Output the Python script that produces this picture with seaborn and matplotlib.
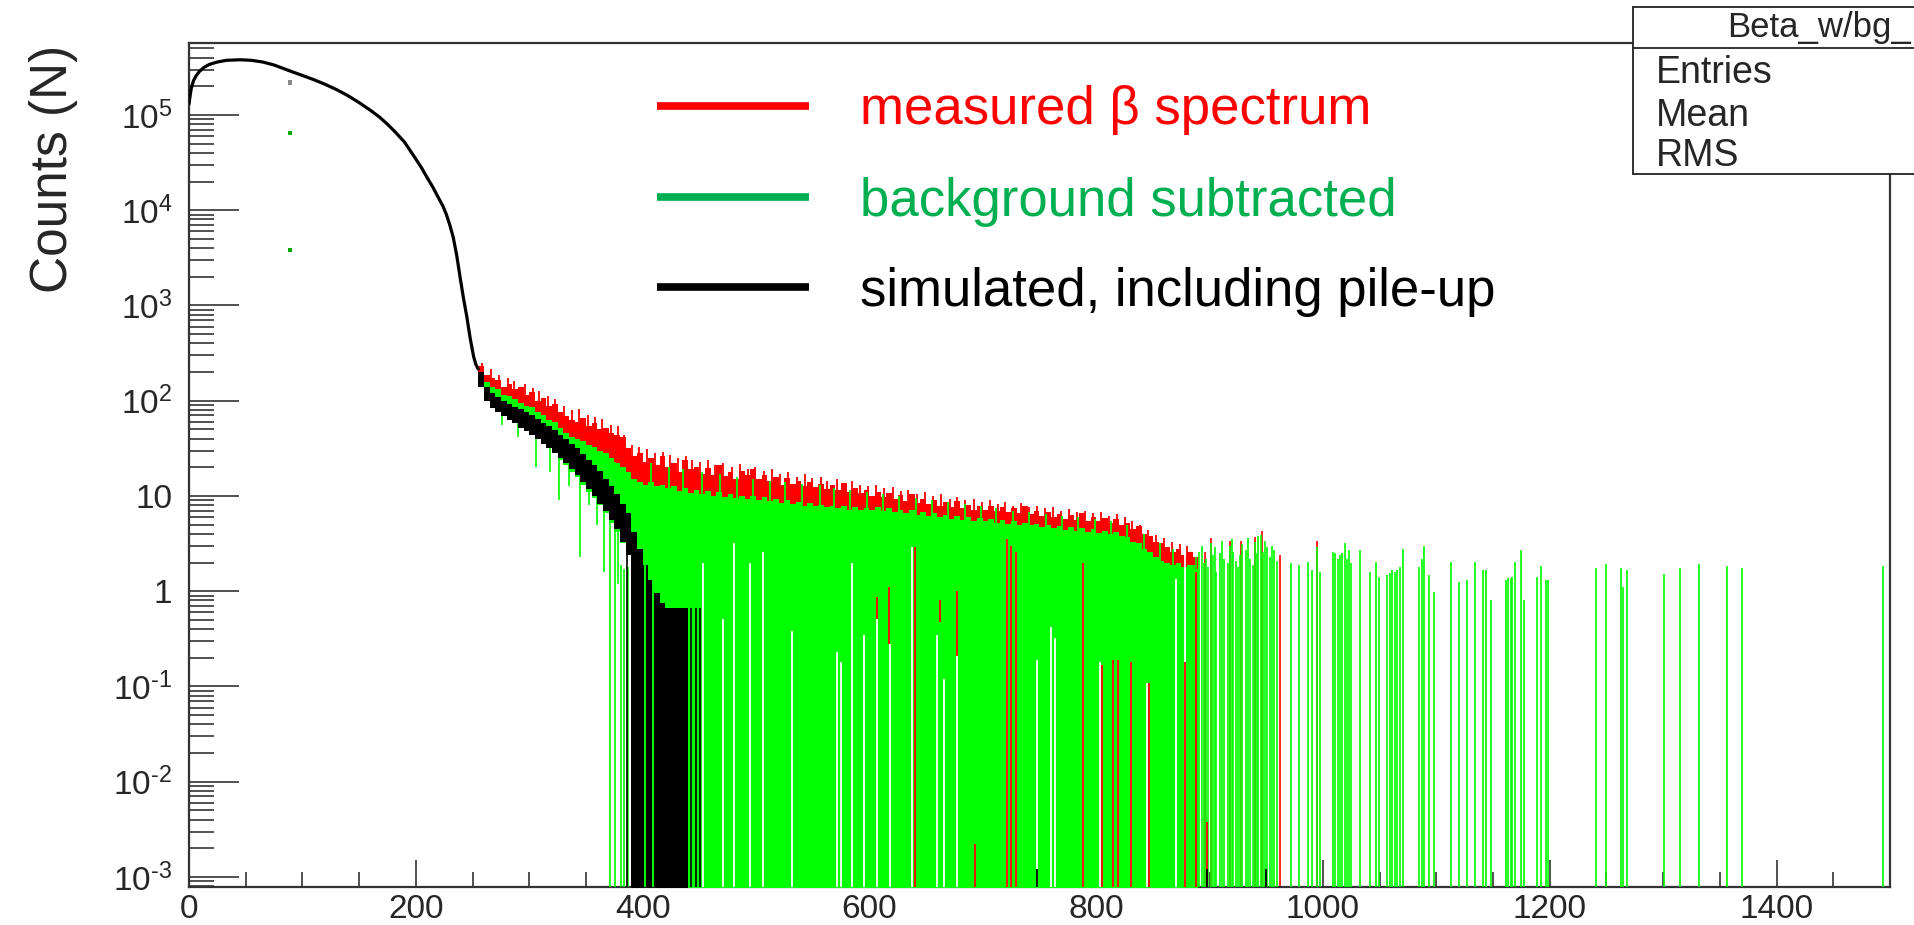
import numpy as np
import pandas as pd
import matplotlib
matplotlib.use("Agg")
import matplotlib.pyplot as plt
import seaborn as sns
from matplotlib.lines import Line2D
from matplotlib.patches import Rectangle
from matplotlib.ticker import FixedLocator, FixedFormatter, LogLocator, MultipleLocator, NullFormatter

# ------------------------------------------------------------------ data
# shared smooth part of the spectrum (all three histograms coincide here)
main_energy = [0, 1, 2, 4, 6, 9, 13, 18, 25, 33, 45, 55, 65, 75, 89, 100, 110, 120, 130,
               140, 150, 160, 168, 175, 182, 190, 199, 205, 210, 215, 220, 224, 227, 230,
               233, 236, 239, 242, 245, 248, 251, 253, 255]
main_counts = [1.3e5, 1.6e5, 1.9e5, 2.3e5, 2.55e5, 2.85e5, 3.15e5, 3.4e5, 3.6e5, 3.75e5,
               3.8e5, 3.75e5, 3.6e5, 3.35e5, 2.9e5, 2.6e5, 2.35e5, 2.1e5, 1.85e5, 1.6e5,
               1.35e5, 1.12e5, 9.5e4, 8.0e4, 6.6e4, 5.2e4, 3.6e4, 2.8e4, 2.2e4, 1.75e4,
               1.35e4, 1.1e4, 9.0e3, 7.0e3, 5.2e3, 3.4e3, 2.0e3, 1.2e3, 760, 450, 290, 240, 215]

# stray single-bin points near channel 89
stray_energy = [89, 89, 89]
stray_counts = [2.2e5, 6.5e4, 3.8e3]
stray_series = ["simulated", "background subtracted", "background subtracted"]

# tail, 5-channel groups starting at these channels
tail_start = list(range(255, 890, 5))
red_top = [229, 186, 174, 166, 138, 151, 132, 138, 115, 123,
           100, 107, 89, 93, 76, 69, 63, 60, 66, 54,
           58, 50, 52, 46, 44, 42, 32, 26, 28, 23,
           25, 21, 26, 20, 22, 18, 24, 19, 20, 17,
           19.5, 16.6, 21, 16.2, 17.8, 15, 18.2, 16.5, 19, 15.1,
           16.6, 14.5, 15.8, 13.2, 15.5, 13.5, 14.5, 12.6, 14.1, 12.3,
           13.5, 11.7, 12.9, 11.5, 13.6, 11, 12, 10.7, 11.5, 10,
           11, 9.8, 10.7, 9.3, 10.2, 8.9, 10.5, 8.5, 9.3, 8.3,
           9.1, 7.9, 8.7, 7.6, 8.9, 7.4, 8.1, 7.2, 7.9, 7.1,
           7.8, 6.9, 7.6, 6.8, 7.4, 6.6, 7.9, 6.5, 6.9, 6.2,
           6.8, 6.0, 6.5, 5.8, 6.3, 5.6, 6.6, 5.5, 6.0, 5.4,
           5.9, 5.2, 5.8, 5.0, 5.2, 4.5, 4.8, 4.0, 3.8, 3.3,
           3.2, 2.9, 2.6, 2.75, 2.4, 2.6, 2.3]
red_low = [170, 130, 118, 110, 96, 93, 87, 79, 74, 70,
           63, 59, 52, 50, 43, 38, 35, 33, 32, 28,
           27, 25, 23, 21, 18, 17, 15, 12.5, 11.7] + [0] * 98
green_top = [200, 158, 141, 132, 115, 112, 105, 95, 89, 85,
             76, 71, 63, 60, 52, 46, 42, 40, 38, 34,
             33, 30, 28, 25, 22, 20, 18, 15, 14, 13.2,
             14.1, 12.6, 13.2, 12, 12.6, 11.2, 12, 10.7, 11.5, 10.5,
             11.2, 10, 11, 9.8, 10.5, 9.5, 10, 9.3, 10, 9.1,
             9.8, 8.9, 9.3, 8.5, 9.1, 8.3, 8.7, 7.9, 8.5, 7.8,
             8.1, 7.6, 7.9, 7.4, 7.8, 7.2, 7.6, 7.1, 7.4, 7.1,
             7.6, 6.9, 7.4, 6.8, 7.2, 6.6, 7.1, 6.3, 6.8, 6.2,
             6.6, 6.0, 6.3, 5.8, 6.2, 5.6, 6.0, 5.5, 5.9, 5.4,
             5.8, 5.2, 5.6, 5.1, 5.5, 5.0, 5.2, 4.9, 5.1, 4.7,
             5.0, 4.6, 4.8, 4.4, 4.7, 4.3, 4.6, 4.2, 4.5, 4.1,
             4.3, 4.0, 4.2, 3.8, 3.7, 3.3, 3.2, 2.8, 2.6, 2.3,
             2.1, 2.0, 1.9, 2.0, 1.8, 1.9, 1.7]
green_low = [141, 105, 89, 79, 72, 66, 60, 55, 50, 44,
             40, 35, 32, 28, 24, 21, 18, 16, 13, 11,
             9.5, 8, 6.6, 5.2, 4.2, 3.2, 2.5, 2.0, 1.6] + [0] * 98

black_start = list(range(255, 440, 5))
black_top = [200, 141, 120, 110, 100, 93, 87, 81, 76, 71,
             65, 59, 54, 49, 44, 40, 35, 32, 27.5, 24,
             21, 18.2, 15.1, 12.6, 10.5, 8.3, 6.6, 4.2, 2.8, 1.9,
             1.3, 0.95, 0.75, 0.66, 0.66, 0.66, 0.66]
black_low = [141, 100, 83, 76, 69, 63, 58, 52, 48, 44,
             40, 35, 32, 28, 25, 22, 19, 16.6, 14.1, 11.7,
             10, 8.3, 6.9, 5.6, 4.5, 3.3, 2.4, 0, 0, 0,
             0, 0, 0, 0, 0, 0, 0]

# single-channel error bars (lower / upper end)
green_spike_x = [276, 290, 306, 318, 326, 335, 345, 353, 360, 366, 371, 376, 378, 381, 384, 387]
green_spike_lo = [56, 42, 20, 18, 9.1, 12.6, 2.3, 8, 5, 1.6, 0, 0, 1.2, 0, 0, 0]
green_spike_hi = [115, 95, 76, 60, 52, 42, 38, 34, 30, 28, 25, 23, 22, 1.9, 1.7, 1.8]

red_spike_x = [258, 266, 273, 281, 287, 296, 303, 309, 317, 323, 331, 338, 344, 352, 358, 364,
               372, 378, 384, 391, 397, 404, 411, 418, 424, 431, 438, 444, 451, 458, 464, 471,
               479, 486, 493, 499, 507, 514, 521, 528, 536, 543, 549, 557, 563, 571, 578, 585,
               592, 599, 606, 613, 621, 628, 634, 642, 649, 656, 663, 671, 677, 684, 692, 699,
               706, 713, 720, 727, 734, 741, 748, 755, 762, 769, 776, 783, 790, 797, 804, 811,
               818, 825, 832, 839, 846, 853, 860, 867, 874, 880]
red_spike_hi = [250, 215, 185, 175, 160, 150, 135, 128, 112, 104, 88, 80, 82, 70, 68, 64,
                56, 54, 44, 34, 33, 31, 28, 29, 27, 25, 26, 24, 23, 24, 21, 22,
                20, 21.5, 19, 20, 18.5, 19, 17, 18, 16, 17, 15.5, 16, 14.5, 15, 13.8, 14.2,
                13, 12.6, 13.2, 12, 12.4, 11.2, 11.6, 10.6, 11, 10, 10.4, 9.4, 9.8, 9, 9.4, 8.6,
                9, 8.2, 8.6, 7.8, 8.4, 7.6, 7.9, 7.4, 7.6, 7, 7.3, 6.8, 7, 6.6, 6.8, 6.2,
                6.5, 6, 5.4, 5.0, 4.4, 3.9, 3.6, 3.3, 3.1, 3.0]
red_spike_lo = [190, 150, 135, 115, 105, 90, 82, 75, 62, 58, 48, 42, 40, 35, 33, 29,
                25, 22, 19, 15, 14] + [0] * 69

green_up_x = [407, 423, 436, 452, 468, 483, 497, 512, 526, 541, 556, 569, 583, 598, 612, 626,
              641, 655, 669, 684, 698, 712, 727, 741, 756, 770, 784, 799, 813, 827, 842, 856, 868]
green_up_hi = [22, 20, 19, 18, 17, 16, 15, 14.5, 14, 13.5, 13, 12, 11.5, 11, 10.5, 10,
               9.5, 9, 8.6, 8.2, 7.8, 7.4, 7.0, 6.8, 6.5, 6.2, 6.0, 5.7, 5.5, 5.0, 4.0, 3.2, 2.8]

black_line_x = [386, 443, 447, 451]
black_line_hi = [2.5, 0.66, 0.66, 0.66]

green_stripe_x = [402, 409]
green_stripe_hi = [13, 12.6]

empty_x = [453, 471, 481, 494.5, 506, 532, 571, 575, 585, 595, 607, 618, 638, 660, 666,
           677, 721, 725, 729, 748, 760, 764, 788, 803, 815, 819, 831, 845, 870, 878]
empty_hi = [2.0, 0.51, 3.2, 2.0, 2.6, 0.38, 0.23, 0.18, 2.0, 0.35, 0.51, 0.28, 2.9, 0.35, 0.12,
            0.23, 3.5, 3.0, 2.6, 0.19, 0.42, 0.32, 2.0, 0.18, 0.19, 0.19, 0.18, 0.11, 1.35, 2.9]

red_line_x = [607, 617, 640, 662, 677, 693, 721, 725, 729, 788, 805, 815, 819, 831, 847, 878, 888, 898]
red_line_lo = [0.51, 0.28, 0, 0.47, 0.21, 0, 0, 0, 0, 0, 0, 0, 0, 0, 0, 0, 0, 0]
red_line_hi = [0.87, 1.1, 2.9, 0.8, 1.0, 0.0022, 3.5, 3.0, 2.6, 2.0, 0.17, 0.19, 0.19, 0.18, 0.11, 0.18, 1.6, 0.0038]

red_tip_x = [896, 901, 918, 928, 940, 946, 962, 995]
red_tip_hi = [2.6, 3.6, 3.4, 3.4, 3.7, 4.3, 2.4, 3.4]

sparse_x = [886, 888, 889.5, 891, 893, 895, 896.5, 899, 901, 903, 904.5, 906, 909, 911, 913,
            916, 918, 919.5, 921, 923, 925, 927, 929, 932, 934, 936, 938, 940, 941.5, 943,
            945, 947, 949, 951, 953, 955, 957, 959,
            972, 978.5, 986.6, 990.6, 994.6, 997.4, 1008.9, 1010.9, 1012.9, 1014.9, 1017,
            1019, 1021, 1023, 1025, 1032.3, 1041.3, 1046.6, 1049.4, 1056.6, 1058.7, 1060.7,
            1063.9, 1065.6, 1068, 1070.9, 1085, 1087, 1089, 1093.6, 1097.6, 1113, 1119.8,
            1126.6, 1133.9, 1141.2, 1144, 1148, 1161.3, 1163, 1165.4, 1167, 1169.4, 1174.3,
            1177.5, 1188.4, 1192.4, 1196.5, 1198.5, 1240.7, 1250, 1262.9, 1264.9, 1267.7,
            1301.1, 1315.2, 1331.3, 1356.2, 1369.5, 1494.2]
sparse_hi = [1.9, 2.3, 1.7, 2.6, 3.0, 2.0, 2.2, 1.8, 3.2, 2.4, 2.9, 1.6, 2.5, 3.4, 2.2,
             2.0, 3.0, 3.5, 2.6, 2.1, 1.8, 2.4, 3.1, 2.7, 3.6, 2.2, 1.9, 3.3, 2.5, 3.8,
             3.9, 2.6, 3.4, 2.9, 2.3, 3.0, 2.7, 2.1,
             1.96, 1.9, 2.05, 1.67, 2.9, 1.6, 2.6, 2.5, 2.2, 2.4, 2.5,
             3.2, 2.2, 2.7, 1.96, 2.7, 1.6, 2.05, 1.42, 1.48, 1.54, 1.67,
             1.6, 1.67, 1.81, 2.8, 1.81, 2.2, 3.0, 1.48, 0.99, 2.05, 1.25,
             1.31, 2.05, 1.67, 1.67, 0.81, 1.31, 1.37, 1.37, 1.42, 2.05, 2.7,
             0.81, 1.42, 1.84, 1.31, 1.31, 1.74, 1.93, 1.74, 1.12, 1.67,
             1.52, 1.74, 1.93, 1.84, 1.74, 1.84]

stub_x = [748, 898, 950]
stub_hi = [0.0012, 0.0012, 0.0012]

x_tick_values = [0, 200, 400, 600, 800, 1000, 1200, 1400]
x_tick_labels = ["0", "200", "400", "600", "800", "1000", "1200", "1400"]
y_tick_values = [1e-3, 1e-2, 1e-1, 1, 10, 1e2, 1e3, 1e4, 1e5]
y_tick_labels = ["$10^{\u20103}$", "$10^{\u20102}$", "$10^{\u20101}$", "1", "10",
                 "$10^{2}$", "$10^{3}$", "$10^{4}$", "$10^{5}$"]

legend_labels = ["measured \u03b2 spectrum", "background subtracted", "simulated, including pile-up"]
legend_colors = ["#ff0000", "#00b050", "#000000"]

stats_title = "Beta_w/bg_"
stats_rows = ["Entries", "Mean", "RMS"]
y_label = "Counts (N)"

# ------------------------------------------------------------------ style
sns.set_theme(style="white")
plt.rcParams["font.family"] = ["Liberation Sans", "DejaVu Sans"]
plt.rcParams["mathtext.fontset"] = "custom"
plt.rcParams["mathtext.rm"] = "Liberation Sans"
plt.rcParams["mathtext.it"] = "Liberation Sans:italic"
plt.rcParams["mathtext.bf"] = "Liberation Sans:bold"

RED = "#ff0000"
GREEN = "#00ff00"
W, H = 1915, 925


def fx(px):
    return px / W


def fy(py):
    return 1 - py / H


fig = plt.figure(figsize=(W / 100, H / 100), dpi=100)
ax = fig.add_axes([fx(189), fy(887), fx(1890) - fx(189), fy(43) - fy(887)])
ax.set_yscale("log")
YMIN, YMAX = 7.85e-4, 5.7e5
ax.set_xlim(0, 1500)
ax.set_ylim(YMIN, YMAX)
FLOOR = 1e-5


def floor(v):
    v = np.asarray(v, dtype=float)
    return np.where(v <= 0, FLOOR, v)


def band(starts, lo, hi, color, width=5, z=2):
    x = np.append(np.asarray(starts, float), starts[-1] + width)
    lo = floor(lo)
    hi = floor(hi)
    ax.fill_between(x, np.append(lo, lo[-1]), np.append(hi, hi[-1]),
                    step="post", color=color, lw=0, zorder=z)


def lines(xs, lo, hi, color, lw=1.2, z=3):
    ax.vlines(xs, floor(lo), floor(hi), colors=color, linewidth=lw, zorder=z)


# measured (red)
band(tail_start, red_low, red_top, RED, z=2)
lines(red_spike_x, red_spike_lo, red_spike_hi, RED, lw=1.3, z=2)
lines(red_tip_x, [0] * len(red_tip_x), red_tip_hi, RED, z=2)
# background subtracted (green)
band(tail_start, green_low, green_top, GREEN, z=3)
lines(green_spike_x, green_spike_lo, green_spike_hi, GREEN, z=3)
lines(green_up_x, [0] * len(green_up_x), green_up_hi, GREEN, lw=1.3, z=3)
lines(sparse_x, [0] * len(sparse_x), sparse_hi, GREEN, z=3)
# simulated (black)
band(black_start, black_low, black_top, "black", z=4)
lines(black_line_x, [0] * len(black_line_x), black_line_hi, "black", z=4)
lines(green_stripe_x, [0] * len(green_stripe_x), green_stripe_hi, GREEN, lw=1.4, z=5)
# empty channels
lines(empty_x, [0] * len(empty_x), empty_hi, "white", lw=1.3, z=5)
lines(red_line_x, red_line_lo, red_line_hi, RED, lw=1.3, z=6)
lines(stub_x, [0] * len(stub_x), stub_hi, "black", lw=1.3, z=6)

main_df = pd.DataFrame({"energy": main_energy, "counts": main_counts})
sns.lineplot(data=main_df, x="energy", y="counts", ax=ax, color="black", lw=2.3,
             zorder=7, estimator=None, sort=True)
stray_df = pd.DataFrame({"energy": stray_energy, "counts": stray_counts, "series": stray_series})
sns.scatterplot(data=stray_df, x="energy", y="counts", hue="series", ax=ax,
                palette={"simulated": "#888888", "background subtracted": "#00aa00"},
                s=10, marker="s", edgecolor="none", legend=False, zorder=8)

ax.set_xlabel("")
ax.set_ylabel("")

# axes / ticks
ax.xaxis.set_major_locator(FixedLocator(x_tick_values))
ax.xaxis.set_major_formatter(FixedFormatter(x_tick_labels))
ax.xaxis.set_minor_locator(MultipleLocator(50))
ax.yaxis.set_major_locator(FixedLocator(y_tick_values))
ax.yaxis.set_major_formatter(FixedFormatter(y_tick_labels))
ax.yaxis.set_minor_locator(LogLocator(base=10, subs=np.arange(2, 10) * 1.0, numticks=100))
ax.yaxis.set_minor_formatter(NullFormatter())
ax.tick_params(axis="x", which="major", direction="in", length=19.5, width=1.1,
               color="#222222", labelsize=24, pad=5, bottom=True, top=False)
ax.tick_params(axis="x", which="minor", direction="in", length=10.8, width=1.1,
               color="#222222", bottom=True, top=False)
ax.tick_params(axis="y", which="major", direction="in", length=36, width=1.1,
               color="#222222", labelsize=24, pad=12, left=True, right=False)
ax.tick_params(axis="y", which="minor", direction="in", length=18, width=1.1,
               color="#222222", left=True, right=False)
for s in ax.spines.values():
    s.set_visible(True)
    s.set_color("#333333")
    s.set_linewidth(1.6)
ax.grid(False)
ax.set_facecolor("white")

fig.text(fx(54), fy(45), y_label, rotation=90, ha="center", va="top", fontsize=37)

# legend (drawn like the reference: coloured bar + coloured text)
leg_line_y = [106, 197, 287]
leg_text_y = [124, 216, 306]
for lab, col, ly, ty in zip(legend_labels, legend_colors, leg_line_y, leg_text_y):
    fig.add_artist(Line2D([fx(657), fx(809)], [fy(ly), fy(ly)], color=col, lw=5.5,
                          solid_capstyle="butt", transform=fig.transFigure, zorder=9))
    fig.text(fx(860), fy(ty), lab, color=col, fontsize=38, ha="left", va="baseline", zorder=9)

# statistics box (cut at the right edge in the reference)
box = Rectangle((fx(1633), fy(174)), 1 - fx(1633), fy(7) - fy(174), transform=fig.transFigure,
                facecolor="white", edgecolor="none", zorder=10)
fig.add_artist(box)
for (x0, y0, x1, y1) in [(1633, 7, 1915, 7), (1633, 174, 1915, 174), (1633, 7, 1633, 174),
                         (1633, 48, 1915, 48)]:
    fig.add_artist(Line2D([fx(x0), fx(x1)], [fy(y0), fy(y1)], color="#222222", lw=1.3,
                          transform=fig.transFigure, zorder=11))
fig.text(fx(1727), fy(37), stats_title, fontsize=25, ha="left", va="baseline", zorder=12)
for lab, by in zip(stats_rows, [83, 126, 166]):
    fig.text(fx(1656), fy(by), lab, fontsize=27, ha="left", va="baseline", zorder=12)

fig.savefig("out.png", dpi=100, facecolor="white")
